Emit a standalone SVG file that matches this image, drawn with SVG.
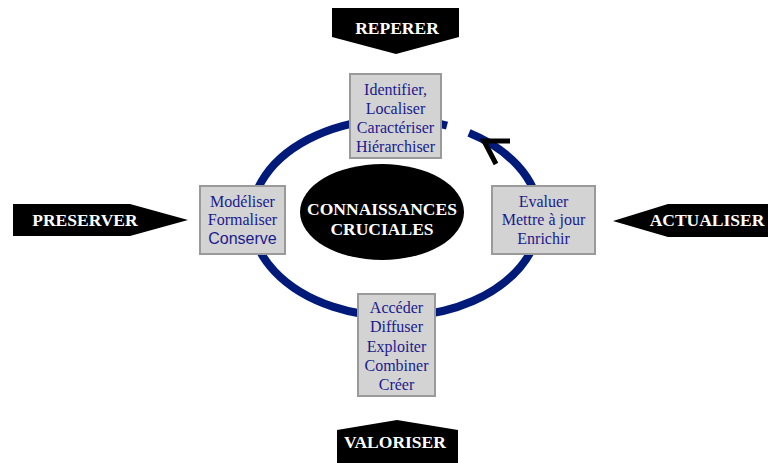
<svg xmlns="http://www.w3.org/2000/svg" width="768" height="463" viewBox="0 0 768 463">
  <style>
    .banner { fill: #000; }
    .banner-text { font-family: "Liberation Serif", "Times New Roman", serif; font-weight: bold; font-size: 17.5px; fill: #fff; text-anchor: middle; }
    .box { fill: #d3d3d3; stroke: #9a9a9a; stroke-width: 2; }
    .box-text { font-family: "Liberation Serif", "Times New Roman", serif; font-size: 16px; fill: #1a1a8c; text-anchor: middle; }
    .box-text-sans { font-family: "Liberation Sans", Arial, sans-serif; font-size: 16px; fill: #1a1a8c; text-anchor: middle; }
    .ring { fill: none; stroke: #001a7a; stroke-width: 8; }
    .arrowhead { fill: none; stroke: #000; stroke-width: 5; }
  </style>

  <rect width="768" height="463" fill="#fff"/>

  <!-- cycle ring with its arrowhead -->
  <g id="connectors">
    <path class="ring" d="M447,125.6 A144,98.7 0 1,0 469,132.9"/>
    <polyline class="arrowhead" points="510,141 484,141 496,164"/>
  </g>

  <!-- centre -->
  <g id="node-centre">
    <ellipse cx="382" cy="212" rx="82" ry="48" fill="#000"/>
    <text class="banner-text" x="382" y="215">CONNAISSANCES</text>
    <text class="banner-text" x="382" y="235">CRUCIALES</text>
  </g>

  <!-- activity boxes -->
  <g id="node-identifier">
    <rect class="box" x="350" y="74" width="91" height="84"/>
    <text class="box-text" x="395.5" y="95">Identifier,</text>
    <text class="box-text" x="395.5" y="114">Localiser</text>
    <text class="box-text" x="395.5" y="133">Caractériser</text>
    <text class="box-text" x="395.5" y="152">Hiérarchiser</text>
  </g>

  <g id="node-modeliser">
    <rect class="box" x="200" y="186" width="85" height="68"/>
    <text class="box-text" x="242.5" y="207">Modéliser</text>
    <text class="box-text" x="242.5" y="225">Formaliser</text>
    <text class="box-text-sans" x="242.5" y="244">Conserve</text>
  </g>

  <g id="node-evaluer">
    <rect class="box" x="492" y="186" width="103" height="68"/>
    <text class="box-text" x="543.5" y="207">Evaluer</text>
    <text class="box-text" x="543.5" y="225">Mettre à jour</text>
    <text class="box-text" x="543.5" y="244">Enrichir</text>
  </g>

  <g id="node-acceder">
    <rect class="box" x="358" y="294" width="77" height="102"/>
    <text class="box-text" x="396.5" y="313">Accéder</text>
    <text class="box-text" x="396.5" y="332">Diffuser</text>
    <text class="box-text" x="396.5" y="352">Exploiter</text>
    <text class="box-text" x="396.5" y="371">Combiner</text>
    <text class="box-text" x="396.5" y="390">Créer</text>
  </g>

  <!-- outer banners -->
  <g id="node-reperer">
    <polygon class="banner" points="332,8 459,8 459,37 396,54 332,37"/>
    <text class="banner-text" x="397" y="34">REPERER</text>
  </g>

  <g id="node-valoriser">
    <polygon class="banner" points="337,430 397,420 458,430 458,463 337,463"/>
    <text class="banner-text" x="395" y="448">VALORISER</text>
  </g>

  <g id="node-preserver">
    <polygon class="banner" points="13,204 130,204 188,220 130,236 13,236"/>
    <text class="banner-text" x="85" y="226">PRESERVER</text>
  </g>

  <g id="node-actualiser">
    <polygon class="banner" points="613,221 668,204 768,204 768,237 668,237"/>
    <text class="banner-text" x="707" y="226">ACTUALISER</text>
  </g>
</svg>
